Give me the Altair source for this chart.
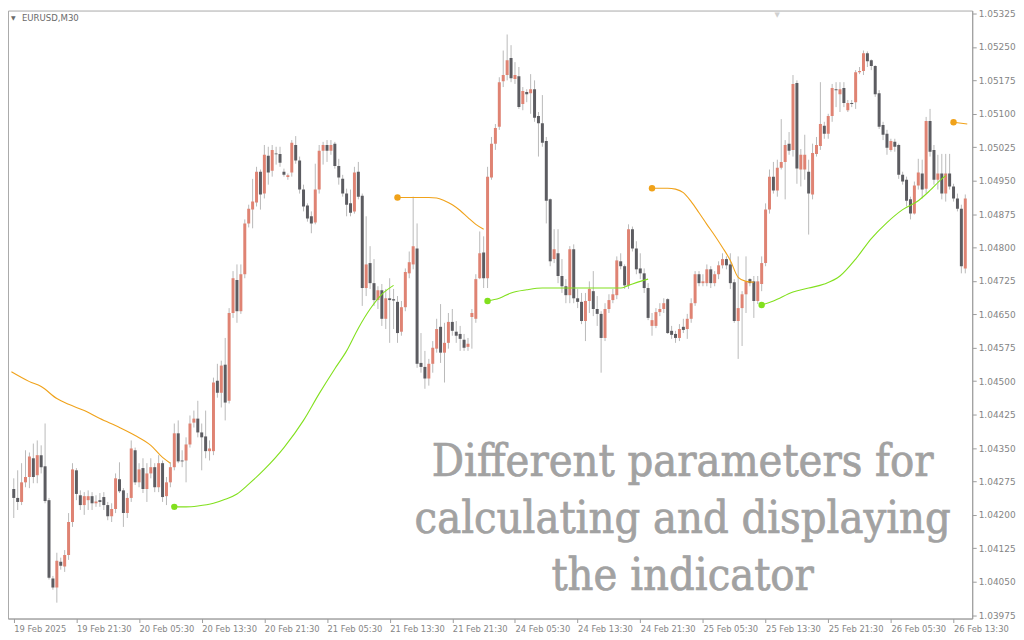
import altair as alt
import pandas as pd

# ---------------- candle data (EURUSD, M30) ----------------
opens = [
1.04258,1.04238,1.04229,1.04273,1.04285,1.04327,1.04289,1.04334,1.04309,1.04233,
1.04057,1.04037,1.04095,1.04084,1.04110,1.04184,1.04300,1.04244,1.04222,1.04233,
1.04242,1.04226,1.04233,1.04240,1.04222,1.04197,1.04213,1.04280,1.04255,1.04204,
1.04238,1.04345,1.04273,1.04305,1.04258,1.04293,1.04307,1.04262,1.04316,1.04242,
1.04273,1.04307,1.04383,1.04322,1.04322,1.04358,1.04407,1.04416,1.04385,1.04376,
1.04343,1.04343,1.04501,1.04474,1.04537,1.04456,1.04653,1.04727,1.04657,1.04740,
1.04854,1.04885,1.04901,1.04970,1.04921,1.05006,1.04972,1.05011,1.05010,1.04970,
1.04958,1.04968,1.05030,1.04995,1.04930,1.04894,1.04870,1.04856,1.04930,1.05017,
1.05030,1.05017,1.05033,1.04983,1.04954,1.04921,1.04899,1.04881,1.04970,1.04916,
1.04709,1.04765,1.04720,1.04682,1.04704,1.04640,1.04686,1.04684,1.04678,1.04611,
1.04666,1.04742,1.04762,1.04798,1.04541,1.04532,1.04506,1.04539,1.04573,1.04622,
1.04564,1.04586,1.04633,1.04611,1.04606,1.04593,1.04577,1.04644,1.04640,1.04731,
1.04789,1.04731,1.04957,1.05033,1.05071,1.05173,1.05187,1.05225,1.05178,1.05184,
1.05122,1.05149,1.05146,1.05155,1.05095,1.05079,1.05039,1.04908,1.04774,1.04787,
1.04736,1.04713,1.04693,1.04796,1.04686,1.04678,1.04635,1.04680,1.04702,1.04662,
1.04651,1.04597,1.04662,1.04682,1.04693,1.04769,1.04758,1.04715,1.04841,1.04798,
1.04753,1.04742,1.04709,1.04624,1.04624,1.04655,1.04662,1.04684,1.04613,1.04606,
1.04597,1.04622,1.04617,1.04640,1.04675,1.04740,1.04720,1.04720,1.04751,1.04720,
1.04740,1.04760,1.04774,1.04762,1.04722,1.04635,1.04664,1.04695,1.04729,1.04724,
1.04680,1.04718,1.04765,1.04885,1.04959,1.04928,1.04979,1.04992,1.05033,1.05019,
1.05169,1.04975,1.04975,1.04970,1.04919,1.05010,1.05028,1.05073,1.05055,1.05095,
1.05155,1.05144,1.05158,1.05108,1.05124,1.05126,1.05193,1.05196,1.05236,1.05220,
1.05207,1.05146,1.05075,1.05055,1.05019,1.05037,1.05030,1.04963,1.04952,1.04908,
1.04876,1.04939,1.04966,1.04932,1.05084,1.05019,1.04952,1.04966,1.04921,1.04966,
1.04937,1.04910,1.04887,1.04753,
]
highs = [
1.04282,1.04300,1.04316,1.04345,1.04340,1.04360,1.04367,1.04356,1.04405,1.04238,
1.04063,1.04115,1.04104,1.04121,1.04204,1.04316,1.04305,1.04255,1.04251,1.04255,
1.04251,1.04244,1.04249,1.04251,1.04229,1.04226,1.04293,1.04318,1.04260,1.04249,
1.04367,1.04351,1.04316,1.04327,1.04316,1.04327,1.04316,1.04334,1.04322,1.04285,
1.04318,1.04405,1.04412,1.04345,1.04374,1.04423,1.04434,1.04456,1.04405,1.04434,
1.04367,1.04508,1.04539,1.04546,1.04597,1.04664,1.04747,1.04762,1.04762,1.04863,
1.04896,1.04954,1.04981,1.04975,1.05030,1.05026,1.05030,1.05026,1.05026,1.04977,
1.04966,1.05041,1.05050,1.05004,1.04941,1.04899,1.04881,1.04988,1.05030,1.05037,
1.05041,1.05041,1.05037,1.04999,1.04963,1.04932,1.04930,1.04981,1.04992,1.04921,
1.04870,1.04803,1.04774,1.04713,1.04718,1.04707,1.04731,1.04707,1.04691,1.04680,
1.04753,1.04791,1.04914,1.04854,1.04608,1.04568,1.04550,1.04590,1.04640,1.04673,
1.04631,1.04653,1.04662,1.04635,1.04624,1.04606,1.04597,1.04662,1.04740,1.04836,
1.04825,1.04981,1.05048,1.05077,1.05182,1.05242,1.05278,1.05254,1.05216,1.05205,
1.05160,1.05155,1.05189,1.05175,1.05104,1.05142,1.05048,1.04910,1.04841,1.04841,
1.04774,1.04729,1.04803,1.04807,1.04707,1.04698,1.04698,1.04724,1.04747,1.04691,
1.04657,1.04675,1.04695,1.04707,1.04780,1.04787,1.04762,1.04852,1.04847,1.04814,
1.04787,1.04753,1.04720,1.04653,1.04664,1.04675,1.04686,1.04686,1.04624,1.04613,
1.04628,1.04640,1.04651,1.04686,1.04747,1.04747,1.04740,1.04762,1.04758,1.04747,
1.04769,1.04787,1.04780,1.04787,1.04729,1.04780,1.04702,1.04780,1.04731,1.04736,
1.04736,1.04780,1.04899,1.04975,1.04992,1.04997,1.05088,1.05041,1.05059,1.05187,
1.05175,1.05021,1.05053,1.04997,1.05033,1.05048,1.05171,1.05082,1.05100,1.05167,
1.05171,1.05171,1.05171,1.05131,1.05131,1.05198,1.05205,1.05242,1.05240,1.05222,
1.05209,1.05153,1.05082,1.05064,1.05044,1.05044,1.05033,1.04970,1.04959,1.04914,
1.04948,1.04999,1.04997,1.05093,1.05111,1.05030,1.05008,1.05010,1.05010,1.05010,
1.04943,1.04921,1.04896,1.04919,
]
lows = [
1.04193,1.04211,1.04222,1.04262,1.04260,1.04271,1.04271,1.04293,1.04226,1.04055,
1.04032,1.04003,1.04077,1.04072,1.04099,1.04173,1.04233,1.04211,1.04200,1.04211,
1.04211,1.04218,1.04218,1.04211,1.04188,1.04184,1.04204,1.04249,1.04173,1.04193,
1.04229,1.04267,1.04262,1.04249,1.04229,1.04282,1.04251,1.04251,1.04229,1.04222,
1.04262,1.04300,1.04316,1.04307,1.04273,1.04351,1.04396,1.04374,1.04300,1.04327,
1.04322,1.04334,1.04463,1.04441,1.04412,1.04450,1.04642,1.04631,1.04651,1.04731,
1.04845,1.04843,1.04892,1.04885,1.04910,1.04941,1.04959,1.04986,1.04981,1.04959,
1.04952,1.04959,1.04988,1.04921,1.04881,1.04858,1.04832,1.04852,1.04921,1.04986,
1.04992,1.05008,1.04977,1.04941,1.04914,1.04870,1.04870,1.04876,1.04908,1.04669,
1.04691,1.04707,1.04669,1.04662,1.04624,1.04617,1.04586,1.04617,1.04586,1.04602,
1.04657,1.04731,1.04751,1.04530,1.04519,1.04483,1.04490,1.04519,1.04564,1.04541,
1.04497,1.04573,1.04602,1.04586,1.04568,1.04568,1.04568,1.04573,1.04631,1.04729,
1.04709,1.04709,1.04952,1.05019,1.05064,1.05160,1.05175,1.05171,1.05167,1.05111,
1.05108,1.05126,1.05100,1.05082,1.05004,1.05026,1.04854,1.04758,1.04765,1.04720,
1.04698,1.04675,1.04675,1.04675,1.04664,1.04628,1.04590,1.04653,1.04646,1.04624,
1.04519,1.04590,1.04653,1.04675,1.04684,1.04751,1.04707,1.04707,1.04791,1.04740,
1.04729,1.04698,1.04637,1.04602,1.04619,1.04646,1.04653,1.04606,1.04595,1.04586,
1.04590,1.04608,1.04595,1.04631,1.04669,1.04713,1.04713,1.04713,1.04709,1.04713,
1.04729,1.04753,1.04751,1.04707,1.04631,1.04550,1.04579,1.04653,1.04713,1.04642,
1.04673,1.04702,1.04758,1.04876,1.04921,1.04914,1.04975,1.04908,1.05008,1.05004,
1.04943,1.04937,1.04952,1.04829,1.04908,1.05004,1.05019,1.05044,1.05044,1.05082,
1.05115,1.05104,1.05115,1.05104,1.05115,1.05111,1.05189,1.05187,1.05205,1.05198,
1.05138,1.05066,1.05041,1.05008,1.05015,1.05015,1.04954,1.04941,1.04892,1.04863,
1.04874,1.04930,1.04910,1.04921,1.05004,1.04941,1.04930,1.04908,1.04903,1.04930,
1.04903,1.04881,1.04742,1.04742,
]
closes = [
1.04238,1.04229,1.04273,1.04285,1.04331,1.04285,1.04334,1.04307,1.04231,1.04059,
1.04037,1.04097,1.04086,1.04110,1.04184,1.04302,1.04247,1.04222,1.04242,1.04242,
1.04226,1.04230,1.04229,1.04222,1.04197,1.04213,1.04282,1.04253,1.04204,1.04238,
1.04349,1.04273,1.04302,1.04258,1.04293,1.04307,1.04262,1.04316,1.04240,1.04273,
1.04307,1.04383,1.04320,1.04320,1.04358,1.04405,1.04416,1.04385,1.04374,1.04343,
1.04349,1.04497,1.04474,1.04535,1.04452,1.04653,1.04731,1.04657,1.04740,1.04854,
1.04887,1.04903,1.04970,1.04919,1.05008,1.04968,1.05019,1.05009,1.04990,1.04963,
1.04962,1.05035,1.04995,1.04930,1.04892,1.04865,1.04854,1.04930,1.05017,1.05030,
1.05017,1.05030,1.04983,1.04957,1.04921,1.04896,1.04878,1.04968,1.04914,1.04709,
1.04762,1.04720,1.04682,1.04704,1.04640,1.04686,1.04682,1.04681,1.04608,1.04666,
1.04745,1.04767,1.04803,1.04539,1.04532,1.04506,1.04539,1.04575,1.04617,1.04564,
1.04586,1.04633,1.04613,1.04602,1.04595,1.04575,1.04584,1.04653,1.04729,1.04787,
1.04731,1.04959,1.05033,1.05068,1.05171,1.05187,1.05220,1.05180,1.05187,1.05115,
1.05151,1.05144,1.05155,1.05091,1.05079,1.05035,1.04905,1.04769,1.04796,1.04736,
1.04713,1.04693,1.04796,1.04686,1.04678,1.04635,1.04680,1.04707,1.04662,1.04651,
1.04597,1.04662,1.04682,1.04695,1.04771,1.04758,1.04715,1.04841,1.04798,1.04751,
1.04742,1.04709,1.04642,1.04637,1.04655,1.04662,1.04675,1.04608,1.04604,1.04597,
1.04617,1.04615,1.04640,1.04675,1.04740,1.04720,1.04724,1.04751,1.04720,1.04740,
1.04760,1.04774,1.04760,1.04720,1.04635,1.04664,1.04695,1.04724,1.04720,1.04680,
1.04724,1.04765,1.04885,1.04959,1.04928,1.04979,1.04992,1.05030,1.05017,1.05167,
1.04977,1.05008,1.05008,1.04921,1.05012,1.05030,1.05077,1.05055,1.05095,1.05158,
1.05153,1.05155,1.05124,1.05124,1.05122,1.05193,1.05196,1.05236,1.05218,1.05207,
1.05144,1.05071,1.05053,1.05024,1.05039,1.05026,1.04963,1.04948,1.04905,1.04876,
1.04939,1.04968,1.04930,1.05084,1.05015,1.04952,1.04966,1.04921,1.04966,1.04937,
1.04910,1.04887,1.04758,1.04910,
]

# ---------------- indicator segments ----------------
seg_o1_idx = [-0.6, 4, 7, 11, 14, 18, 22, 27, 31, 35, 38, 40]
seg_o1_val = [1.04521, 1.04499, 1.04488, 1.04461, 1.04448, 1.04434, 1.04416, 1.04396, 1.04378, 1.04356, 1.04329, 1.04316]
seg_g1_idx = [41, 44, 47, 51, 54, 57, 60, 64, 69, 74, 78, 82, 85, 88, 91, 94, 97]
seg_g1_val = [1.04218, 1.04218, 1.04220, 1.04226, 1.04235, 1.04247, 1.04269, 1.04302, 1.04351, 1.04412, 1.04472, 1.04528, 1.04568, 1.04619, 1.04662, 1.04695, 1.04715]
seg_o2_idx = [98, 102, 106, 108, 110, 112, 114, 116, 118, 120]
seg_o2_val = [1.04912, 1.04912, 1.04912, 1.04911, 1.04905, 1.04896, 1.04883, 1.04867, 1.04852, 1.04841]
seg_g2_idx = [121, 124, 127, 131, 135, 145, 155, 157, 160, 162]
seg_g2_val = [1.04680, 1.04686, 1.04698, 1.04705, 1.04709, 1.04709, 1.04709, 1.04715, 1.04724, 1.04729]
seg_o3_idx = [163, 167, 169, 171, 173, 175, 177, 179, 181, 183, 185, 187, 189]
seg_o3_val = [1.04933, 1.04933, 1.04931, 1.04923, 1.04903, 1.04878, 1.04852, 1.04827, 1.04800, 1.04771, 1.04733, 1.04724, 1.04722]
seg_g3_idx = [191, 194, 199, 203, 207, 211, 215, 219, 223, 227, 231, 234, 237, 238]
seg_g3_val = [1.04671, 1.04680, 1.04700, 1.04709, 1.04718, 1.04736, 1.04774, 1.04820, 1.04856, 1.04885, 1.04905, 1.04928, 1.04954, 1.04961]
seg_o4_idx = [240, 243.5]
seg_o4_val = [1.05081, 1.05077]

# ---------------- axis labels ----------------
x_tick_idx = [0, 16, 32, 48, 64, 80, 96, 112, 128, 144, 160, 176, 192, 208, 224, 240]
x_tick_labels = ["19 Feb 2025", "19 Feb 21:30", "20 Feb 05:30", "20 Feb 13:30", "20 Feb 21:30",
                 "21 Feb 05:30", "21 Feb 13:30", "21 Feb 21:30", "24 Feb 05:30", "24 Feb 13:30",
                 "24 Feb 21:30", "25 Feb 05:30", "25 Feb 13:30", "25 Feb 21:30", "26 Feb 05:30",
                 "26 Feb 13:30"]
y_ticks = [1.03975, 1.04050, 1.04125, 1.04200, 1.04275, 1.04350, 1.04425, 1.04500, 1.04575,
           1.04650, 1.04725, 1.04800, 1.04875, 1.04950, 1.05025, 1.05100, 1.05175, 1.05250, 1.05325]

UP = "#df8373"
DOWN = "#5c5c61"
WICK = "#b9b9b9"
ORANGE = "#f0a21a"
GREEN = "#82e01e"

n = len(opens)
candles = pd.DataFrame({
    "idx": list(range(n)),
    "open": opens, "high": highs, "low": lows, "close": closes,
})
candles["dir"] = ["up" if c >= o else "down" for o, c in zip(opens, closes)]

# (name, idx, values, colour, starts with a dot)
segs = [("o1", seg_o1_idx, seg_o1_val, ORANGE, False), ("g1", seg_g1_idx, seg_g1_val, GREEN, True),
        ("o2", seg_o2_idx, seg_o2_val, ORANGE, True), ("g2", seg_g2_idx, seg_g2_val, GREEN, True),
        ("o3", seg_o3_idx, seg_o3_val, ORANGE, True), ("g3", seg_g3_idx, seg_g3_val, GREEN, True),
        ("o4", seg_o4_idx, seg_o4_val, ORANGE, True)]
rows = []
dots = []
for name, ix, vals, col, has_dot in segs:
    for k, (a, b) in enumerate(zip(ix, vals)):
        rows.append({"seg": name, "idx": a, "low": b, "col": col, "ord": k})
    if has_dot:
        dots.append({"seg": name, "idx": ix[0], "low": vals[0], "col": col})
ind = pd.DataFrame(rows)
dot_df = pd.DataFrame(dots)

label_expr = "[" + ",".join("'%s'" % s for s in x_tick_labels) + "][round(datum.value/16)]"

xs = alt.Scale(domain=[-0.2, 243.5], nice=False, zero=False)
ys = alt.Scale(domain=[1.039674, 1.053317], nice=False, zero=False)

x_axis = alt.Axis(values=x_tick_idx, labelExpr=label_expr, title=None, grid=False,
                  labelAlign="left", labelBaseline="top", labelFlush=False, labelOverlap=False,
                  tickSize=4, labelPadding=2, labelFontSize=8.4, labelColor="#858585",
                  labelFont="DejaVu Sans", domainColor="#9c9c9c", tickColor="#9c9c9c")
y_axis = alt.Axis(values=y_ticks, format=".5f", orient="right", title=None, grid=False,
                  tickSize=4, labelPadding=2, labelFontSize=9, labelColor="#858585",
                  labelFont="DejaVu Sans", domainColor="#9c9c9c", tickColor="#9c9c9c",
                  labelFlush=False, labelOverlap=False, labelBound=False)

X = alt.X("idx:Q", scale=xs, axis=x_axis)

wicks = alt.Chart(candles).mark_rule(color=WICK, strokeWidth=1, clip=True).encode(
    x=X,
    y=alt.Y("low:Q", scale=ys, axis=y_axis),
    y2="high:Q",
)
bodies = alt.Chart(candles).mark_bar(size=3, clip=True).encode(
    x=X,
    y=alt.Y("open:Q", scale=ys, axis=y_axis),
    y2="close:Q",
    color=alt.Color("dir:N", scale=alt.Scale(domain=["up", "down"], range=[UP, DOWN]), legend=None),
)
lines = alt.Chart(ind).mark_line(strokeWidth=1.1, interpolate="monotone", clip=True).encode(
    x=X,
    y=alt.Y("low:Q", scale=ys, axis=y_axis),
    detail="seg:N",
    order="ord:Q",
    color=alt.Color("col:N", scale=None),
)
points = alt.Chart(dot_df).mark_circle(size=42, opacity=1, clip=True).encode(
    x=X,
    y=alt.Y("low:Q", scale=ys, axis=y_axis),
    color=alt.Color("col:N", scale=None),
)

WM_FONT = "'DejaVu Serif Condensed', 'DejaVu Serif', serif"
WM_COL = "#a2a2a2"
wm_lines = ["Different parameters for", "calculating and displaying", "the indicator"]
wm_y = [468, 525, 582]
wm_layers = []
for t, yy in zip(wm_lines, wm_y):
    wm_layers.append(
        alt.Chart(pd.DataFrame({"t": [t]})).mark_text(
            font=WM_FONT, fontSize=45, color=WM_COL, stroke=WM_COL, strokeWidth=0.7,
            align="center", baseline="alphabetic"
        ).encode(text="t:N", x=alt.value(678), y=alt.value(yy))
    )

hdr_tri = alt.Chart(pd.DataFrame({"t": ["\u25BC"]})).mark_text(
    fontSize=6, color="#6a6a6a", align="left", baseline="middle", font="DejaVu Sans"
).encode(text="t:N", x=alt.value(3), y=alt.value(8))
hdr = alt.Chart(pd.DataFrame({"t": ["EURUSD,M30"]})).mark_text(
    fontSize=8.6, color="#6a6a6a", align="left", baseline="middle", font="DejaVu Sans"
).encode(text="t:N", x=alt.value(14), y=alt.value(8))
shift_mark = alt.Chart(pd.DataFrame({"t": ["\u25BC"]})).mark_text(
    fontSize=7, color="#d0d0d0", align="center", baseline="top", font="DejaVu Sans"
).encode(text="t:N", x=alt.value(773), y=alt.value(0))

chart = alt.layer(wicks, bodies, lines, points, *wm_layers, hdr_tri, hdr, shift_mark).properties(
    width=969, height=611, padding=0, background="#ffffff"
).configure_view(stroke="#a9a9a9", strokeWidth=1).configure_axis(labelOverlap=False)

chart.save("out.html", embed_options={"renderer": "svg", "actions": False})
